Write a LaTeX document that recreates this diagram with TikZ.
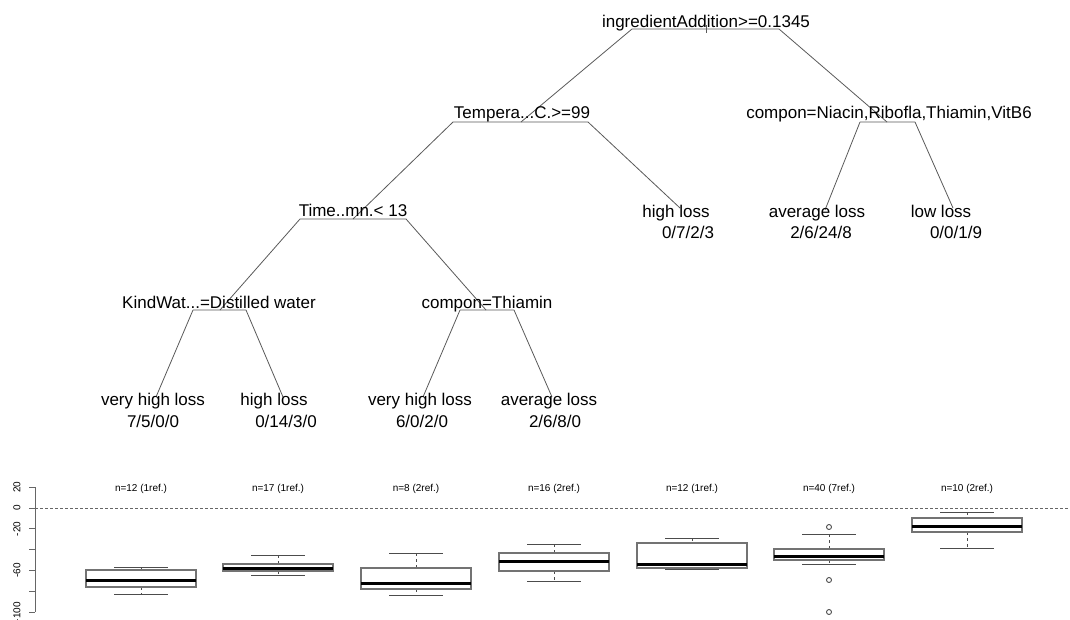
\documentclass[tikz,border=0pt]{standalone}
\usepackage{fontspec}
\setmainfont{Liberation Sans}
\usepackage{tikz}

\begin{document}
\begin{tikzpicture}[x=1pt,y=-1pt,
	split/.style={anchor=base,inner sep=0pt,font=\fontsize{17}{20}\selectfont},
	leaf/.style={anchor=base,inner sep=0pt,font=\fontsize{17}{20}\selectfont},
	branch/.style={draw=black!65,line width=0.8pt},
	boxline/.style={draw=black!55,line width=1.1pt},
	whisk/.style={draw=black!70,line width=0.9pt},
	median/.style={draw=black,line width=3pt},
	axis/.style={draw=black!60,line width=1pt},
	zero/.style={draw=black!60,line width=0.8pt,dash pattern=on 3pt off 2pt},
	small/.style={inner sep=0pt,font=\fontsize{10}{12}\selectfont},
	]
	\useasboundingbox (0,0) rectangle (1070,619);

	\coordinate (root) at (706,29);
	\coordinate (temp) at (521,122);
	\coordinate (comp) at (887,122);
	\coordinate (time) at (353,219);
	\coordinate (kind) at (220,310);
	\coordinate (thia) at (486,310);
	\coordinate (l1) at (156,397);
	\coordinate (l2) at (283,397);
	\coordinate (l3) at (423,397);
	\coordinate (l4) at (552,397);
	\coordinate (l5) at (680,208);
	\coordinate (l6) at (825,210);
	\coordinate (l7) at (953,208);

	\coordinate (rootL) at (632,29);  \coordinate (rootR) at (779,29);
	\coordinate (tempL) at (453,122); \coordinate (tempR) at (588,122);
	\coordinate (compL) at (860,122); \coordinate (compR) at (915,122);
	\coordinate (timeL) at (300,219); \coordinate (timeR) at (406,219);
	\coordinate (kindL) at (193,310); \coordinate (kindR) at (246,310);
	\coordinate (thiaL) at (460,310); \coordinate (thiaR) at (514,310);

	\draw[branch] ([yshift=4pt]root) -- ([yshift=-4pt]root);
	\draw[branch] (rootL) -- (rootR) (rootL) -- (temp) (rootR) -- (comp);
	\draw[branch] (tempL) -- (tempR) (tempL) -- (time) (tempR) -- (l5);
	\draw[branch] (compL) -- (compR) (compL) -- (l6) (compR) -- (l7);
	\draw[branch] (timeL) -- (timeR) (timeL) -- (kind) (timeR) -- (thia);
	\draw[branch] (kindL) -- (kindR) (kindL) -- (l1) (kindR) -- (l2);
	\draw[branch] (thiaL) -- (thiaR) (thiaL) -- (l3) (thiaR) -- (l4);

	\node[split] (rootlab) at (706,27) {ingredientAddition>=0.1345};
	\node[split] (templab) at (522,118) {Tempera...C.>=99};
	\node[split] (complab) at (889,118) {compon=Niacin,Ribofla,Thiamin,VitB6};
	\node[split] (timelab) at (353,216) {Time..mn.< 13};
	\node[split] (kindlab) at (219,308) {KindWat...=Distilled water};
	\node[split] (thialab) at (487,308) {compon=Thiamin};

	\node[leaf] (l1lab) at (153,405) {very high loss};
	\node[leaf] (l1n) at (153,427) {7/5/0/0};
	\node[leaf] (l2lab) at (274,405) {high loss};
	\node[leaf] (l2n) at (286,427) {0/14/3/0};
	\node[leaf] (l3lab) at (420,405) {very high loss};
	\node[leaf] (l3n) at (422,427) {6/0/2/0};
	\node[leaf] (l4lab) at (549,405) {average loss};
	\node[leaf] (l4n) at (555,427) {2/6/8/0};
	\node[leaf] (l5lab) at (676,217) {high loss};
	\node[leaf] (l5n) at (688,238) {0/7/2/3};
	\node[leaf] (l6lab) at (817,217) {average loss};
	\node[leaf] (l6n) at (821,238) {2/6/24/8};
	\node[leaf] (l7lab) at (941,217) {low loss};
	\node[leaf] (l7n) at (956,238) {0/0/1/9};

	\draw[zero] (35,508) -- (1070,508);
	\draw[axis] (35,487) -- (35,612);
	\foreach \v in {20,0,-20,-40,-60,-80,-100}
		\draw[axis] (29,{508-1.0417*\v}) -- (35,{508-1.0417*\v});
	\foreach \v [count=\i] in {20,0,-20,-60,-100}
		\node[small,rotate=90] (tick\i) at (17,{508-1.0417*\v}) {\v};

	\foreach \cx/\uw/\bt/\md/\bb/\lw/\lab in {
		141/567/570/580/587/594/{n=12 (1ref.)},
		278/555/564/568/571/575/{n=17 (1ref.)},
		416/553/568/583/589/595/{n=8 (2ref.)},
		554/544/553/561/571/581/{n=16 (2ref.)},
		692/538/543/564/568/569/{n=12 (1ref.)},
		829/534/549/556/560/564/{n=40 (7ref.)},
		967/512/518/526/532/548/{n=10 (2ref.)}}
	{
		\draw[whisk,dashed] (\cx,\uw) -- (\cx,\bt) (\cx,\bb) -- (\cx,\lw);
		\draw[whisk] ({\cx-27},\uw) -- ({\cx+27},\uw) ({\cx-27},\lw) -- ({\cx+27},\lw);
		\draw[boxline] ({\cx-55},\bt) rectangle ({\cx+55},\bb);
		\draw[median] ({\cx-55},\md) -- ({\cx+55},\md);
		\node[small,anchor=base] (n\cx) at (\cx,491) {\lab};
	}
	\foreach \oy in {527,580,612}
		\draw[whisk] (829,\oy) circle (2.5pt);
\end{tikzpicture}
\end{document}
